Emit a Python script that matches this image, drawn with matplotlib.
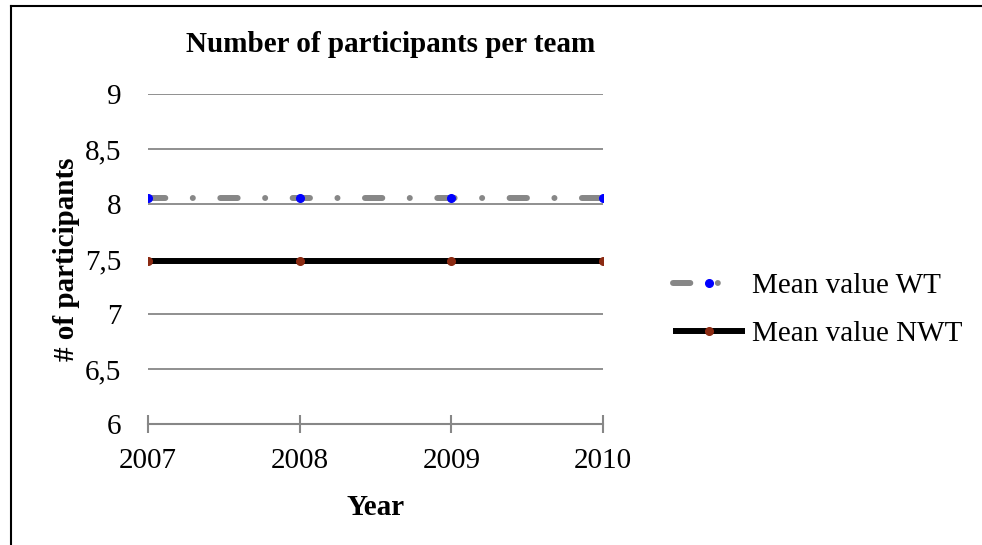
import matplotlib
matplotlib.use('Agg')
import matplotlib.pyplot as plt
from matplotlib.lines import Line2D
from matplotlib.ticker import FuncFormatter

years = [2007, 2008, 2009, 2010]
mean_wt = [8.05, 8.05, 8.05, 8.05]
mean_nwt = [7.48, 7.48, 7.48, 7.48]
y_ticks = [6, 6.5, 7, 7.5, 8, 8.5, 9]

plt.rcParams['font.family'] = ['Liberation Serif', 'DejaVu Serif']

W, H = 982, 545
FS = 21
fig = plt.figure(figsize=(W / 100, H / 100), dpi=100)
ax = fig.add_axes([148 / W, 1 - 424 / H, (603 - 148) / W, (424 - 94) / H])

grey = '#878787'
ax.plot(years, mean_wt, color=grey, linewidth=4.3, dashes=(2.9, 4.6, 0.01, 4.6),
        dash_capstyle='round', solid_capstyle='round', marker='o', markersize=5.5,
        markerfacecolor='#0000ff', markeredgecolor='#0000ff', label='Mean value WT', zorder=3)
ax.plot(years, mean_nwt, color='black', linewidth=4.3, solid_capstyle='butt',
        marker='o', markersize=5.5, markerfacecolor='#8b2a12', markeredgecolor='#8b2a12',
        label='Mean value NWT', zorder=3)

ax.set_xlim(2007, 2010)
ax.set_ylim(6, 9)
ax.set_xticks(years)
ax.set_yticks(y_ticks)
ax.yaxis.set_major_formatter(FuncFormatter(lambda v, p: f'{v:g}'.replace('.', ',')))
ax.grid(axis='y', color=grey, linewidth=1.3)
ax.set_axisbelow(True)
for s in ['top', 'right', 'left']:
    ax.spines[s].set_visible(False)
ax.spines['bottom'].set_color(grey)
ax.spines['bottom'].set_linewidth(1.5)
ax.tick_params(axis='x', direction='inout', length=13, width=1.5, color=grey,
               labelsize=FS, pad=11)
ax.tick_params(axis='y', length=0, labelsize=FS, pad=19)

ax.set_title('Number of participants per team', fontsize=FS, fontweight='bold', pad=30, x=0.534)
ax.set_xlabel('Year', fontsize=FS, fontweight='bold', labelpad=14)
ax.set_ylabel('# of participants', fontsize=FS, fontweight='bold', labelpad=4)

ax.legend(loc='center left', bbox_to_anchor=(673 / W, 1 - 310 / H), bbox_transform=fig.transFigure,
          frameon=False, fontsize=FS, borderpad=0, borderaxespad=0,
          handlelength=2.47, handletextpad=0.24, labelspacing=0.75, numpoints=1)

fig.add_artist(Line2D([11 / W, 11 / W], [0, 1 - 6 / H], color='black', linewidth=1.5))
fig.add_artist(Line2D([11 / W, 1], [1 - 6 / H, 1 - 6 / H], color='black', linewidth=1.5))

fig.savefig('out.png', dpi=100)
